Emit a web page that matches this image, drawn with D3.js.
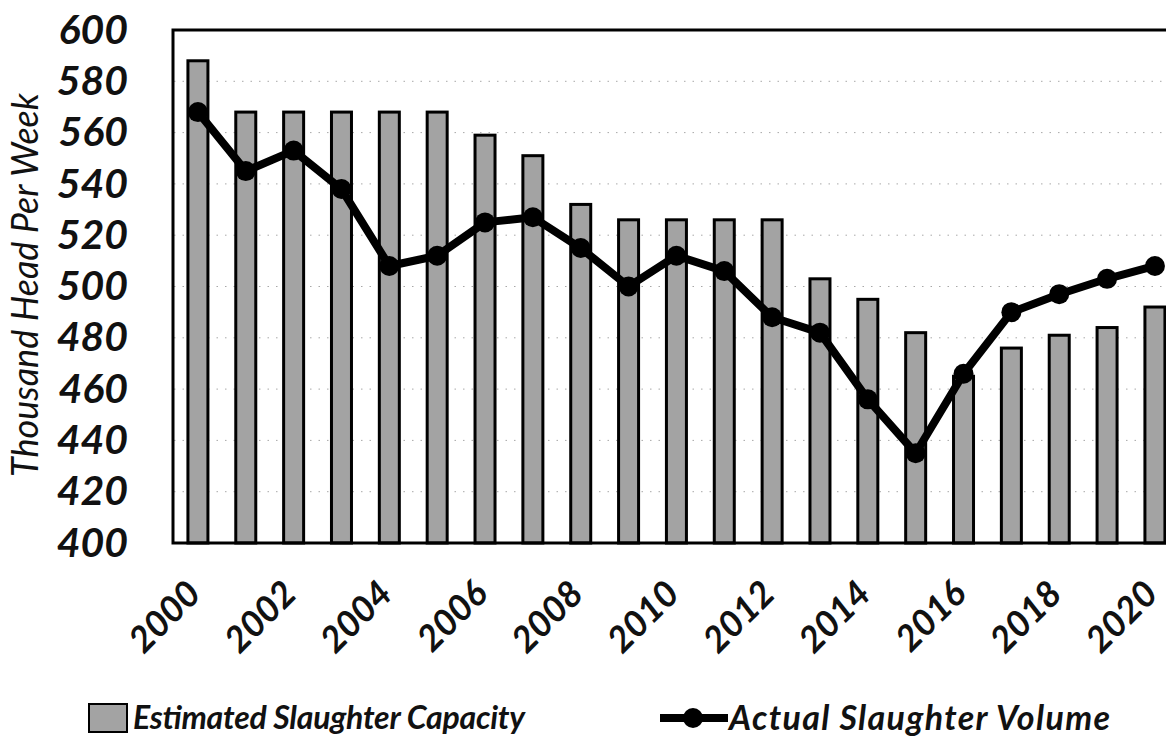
<!DOCTYPE html>
<html>
<head>
<meta charset="utf-8">
<script src="https://cdn.jsdelivr.net/npm/d3@7"></script>
<style>
  body { margin: 0; background: #fff; }
  text { font-family: Lato, "Open Sans", sans-serif; font-style: italic; }
</style>
</head>
<body>
<div id="graph"></div>
<script>
(function() {

  const years = d3.range(2000, 2021)
  const capacity = [588, 568, 568, 568, 568, 568, 559, 551, 532, 526, 526, 526, 526, 503, 495, 482, 465, 476, 481, 484, 492]
  const volume = [568, 545, 553, 538, 508, 512, 525, 527, 515, 500, 512, 506, 488, 482, 456, 435, 466, 490, 497, 503, 508]
  const yTicks = d3.range(400, 601, 20)
  const xTicks = d3.range(2000, 2021, 2)
  const yTitle = "Thousand Head Per Week"
  const capacityLabel = "Estimated Slaughter Capacity"
  const volumeLabel = "Actual Slaughter Volume"

  const width = 1166
  const height = 748
  const left = 174, top = 30, bottom = 543
  const step = 47.85

  const svg = d3.select("#graph")
    .append("svg")
      .attr("width", width)
      .attr("height", height)

  const x = d3.scaleBand()
    .domain(years)
    .range([left, left + step * years.length])

  const y = d3.scaleLinear()
    .domain([400, 600])
    .range([bottom, top])

  // dotted gridlines
  svg.append("g")
    .selectAll("line")
    .data(yTicks.filter(d => d > 400 && d < 600))
    .enter().append("line")
      .attr("x1", left)
      .attr("x2", x.range()[1])
      .attr("y1", d => y(d))
      .attr("y2", d => y(d))
      .attr("stroke", "#a8a8a8")
      .attr("stroke-width", 1)
      .attr("stroke-dasharray", "1.5,7")

  // bars
  const barW = 20
  svg.append("g")
    .selectAll("rect")
    .data(capacity)
    .enter().append("rect")
      .attr("x", (d, i) => x(years[i]) + x.bandwidth() / 2 - barW / 2)
      .attr("y", d => y(d))
      .attr("width", barW)
      .attr("height", d => y(400) - y(d))
      .attr("fill", "#a3a3a3")
      .attr("stroke", "#000")
      .attr("stroke-width", 3)

  // plot frame
  svg.append("rect")
    .attr("x", left - 1)
    .attr("y", top)
    .attr("width", x.range()[1] - left)
    .attr("height", bottom - top)
    .attr("fill", "none")
    .attr("stroke", "#000")
    .attr("stroke-width", 3)

  // volume line
  const line = d3.line()
    .x((d, i) => x(years[i]) + x.bandwidth() / 2)
    .y(d => y(d))

  svg.append("path")
    .datum(volume)
    .attr("fill", "none")
    .attr("stroke", "#000")
    .attr("stroke-width", 8)
    .attr("stroke-linejoin", "round")
    .attr("d", line)

  svg.append("g")
    .selectAll("circle")
    .data(volume)
    .enter().append("circle")
      .attr("cx", (d, i) => x(years[i]) + x.bandwidth() / 2)
      .attr("cy", d => y(d))
      .attr("r", 10)
      .attr("fill", "#000")

  // y axis
  const yAxis = svg.append("g")
    .attr("transform", "translate(" + left + ",0)")
    .call(d3.axisLeft(y).tickValues(yTicks).tickSize(0).tickPadding(46))
  yAxis.select(".domain").remove()
  yAxis.selectAll("text")
    .attr("font-size", 41)
    .attr("font-weight", "bold")
    .attr("font-family", "Lato, sans-serif")
    .attr("fill", "#111")

  // x axis
  const xAxis = svg.append("g")
    .attr("transform", "translate(0," + bottom + ")")
    .call(d3.axisBottom(x).tickValues(xTicks).tickSize(0))
  xAxis.select(".domain").remove()
  xAxis.selectAll("text")
    .attr("font-size", 36)
    .attr("font-weight", "bold")
    .attr("font-family", "Lato, sans-serif")
    .attr("fill", "#111")
    .attr("text-anchor", "end")
    .attr("y", 0)
    .attr("dy", "0.35em")
    .attr("transform", "translate(-4,44) rotate(-45)")

  // y title
  svg.append("text")
    .attr("transform", "translate(25," + 285 + ") rotate(-90)")
    .attr("text-anchor", "middle")
    .attr("dy", "0.35em")
    .attr("font-size", 36)
    .attr("fill", "#111")
    .text(yTitle)

  // legend
  const legend = svg.append("g")
  legend.append("rect")
    .attr("x", 89).attr("y", 704)
    .attr("width", 38).attr("height", 28)
    .attr("fill", "#a3a3a3")
    .attr("stroke", "#000")
    .attr("stroke-width", 2)
  legend.append("text")
    .attr("x", 133).attr("y", 718)
    .attr("dy", "0.35em")
    .attr("font-size", 32)
    .attr("font-weight", "bold")
    .attr("fill", "#111")
    .attr("textLength", 392)
    .attr("lengthAdjust", "spacing")
    .text(capacityLabel)
  legend.append("line")
    .attr("x1", 660).attr("x2", 728)
    .attr("y1", 718).attr("y2", 718)
    .attr("stroke", "#000")
    .attr("stroke-width", 8)
  legend.append("circle")
    .attr("cx", 693).attr("cy", 718)
    .attr("r", 10)
    .attr("fill", "#000")
  legend.append("text")
    .attr("x", 729).attr("y", 718)
    .attr("dy", "0.35em")
    .attr("font-size", 34)
    .attr("font-weight", "bold")
    .attr("fill", "#111")
    .attr("textLength", 381)
    .attr("lengthAdjust", "spacing")
    .text(volumeLabel)

})();
</script>
</body>
</html>
